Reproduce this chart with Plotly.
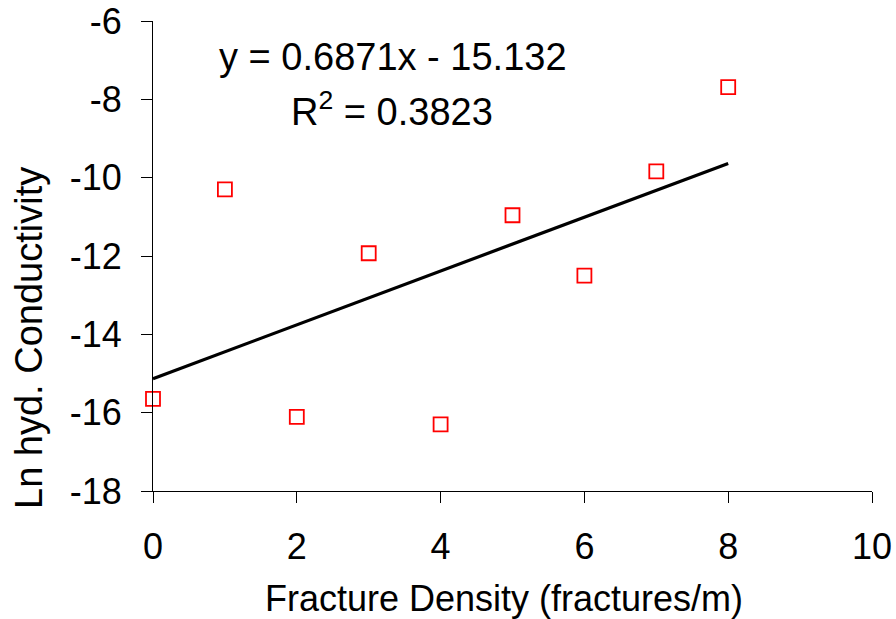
import plotly.graph_objects as go

fracture_density = [0, 1, 2, 3, 4, 5, 6, 7, 8]
ln_conductivity = [-15.65, -10.30, -16.11, -11.93, -16.30, -10.96, -12.50, -9.84, -7.69]
slope = 0.6871
intercept = -15.132
r_squared = 0.3823
x_ticks = [0, 2, 4, 6, 8, 10]
y_ticks = [-18, -16, -14, -12, -10, -8, -6]
y_tick_labels = [str(v) for v in y_ticks]
x_title = "Fracture Density (fractures/m)"
y_title = "Ln hyd. Conductivity"

trend_x = [min(fracture_density), max(fracture_density)]
trend_y = [slope * v + intercept for v in trend_x]

font_family = "Liberation Sans, Arial, sans-serif"

fig = go.Figure()
fig.add_trace(go.Scatter(
    x=fracture_density, y=ln_conductivity, mode="markers",
    marker=dict(symbol="square-open", size=14, color="#ff0000", line=dict(width=1.8)),
    showlegend=False, cliponaxis=False,
))
fig.add_trace(go.Scatter(
    x=trend_x, y=trend_y, mode="lines",
    line=dict(color="black", width=3.2), showlegend=False,
))

fig.add_annotation(x=3.34, y=-6.92, xref="x", yref="y",
                   text=f"y = {slope}x - {abs(intercept)}", showarrow=False,
                   font=dict(size=38, color="black", family=font_family))
fig.add_annotation(x=3.33, y=-8.25, xref="x", yref="y",
                   text=f"R<sup>2</sup> = {r_squared}", showarrow=False,
                   font=dict(size=38, color="black", family=font_family))

# axis titles as annotations for exact placement (pixel positions converted below)
fig.add_annotation(x=504, y=619 - 598, xref="paper", yref="paper",
                   text=x_title, showarrow=False, xanchor="center", yanchor="middle",
                   font=dict(size=36, color="black", family=font_family))
fig.add_annotation(x=29, y=619 - 338, xref="paper", yref="paper",
                   text=y_title, showarrow=False, textangle=-90,
                   xanchor="center", yanchor="middle",
                   font=dict(size=38, color="black", family=font_family))

fig.update_layout(
    width=896, height=619,
    margin=dict(l=153, r=24, t=21, b=128),
    paper_bgcolor="white", plot_bgcolor="white",
    font=dict(family=font_family, size=36, color="black"),
)
pw = 896 - 153 - 24
ph = 619 - 21 - 128
for ann in fig.layout.annotations[2:]:
    ann.x = (ann.x - 153) / pw
    ann.y = (ann.y - 128) / ph

fig.update_xaxes(
    range=[0, 10], tickvals=x_ticks, ticks="outside", ticklen=11, tickwidth=1,
    tickcolor="black", showline=True, linecolor="black", linewidth=1,
    showgrid=False, zeroline=False, automargin=False, ticklabelstandoff=13,
    tickfont=dict(size=36),
)
fig.update_yaxes(
    range=[-18, -6], tickvals=y_ticks, ticktext=y_tick_labels, ticks="outside",
    ticklen=11, tickwidth=1,
    tickcolor="black", showline=True, linecolor="black", linewidth=1,
    showgrid=False, zeroline=False, automargin=False, ticklabelstandoff=12,
    tickfont=dict(size=36),
)

fig.write_html("out.html")
